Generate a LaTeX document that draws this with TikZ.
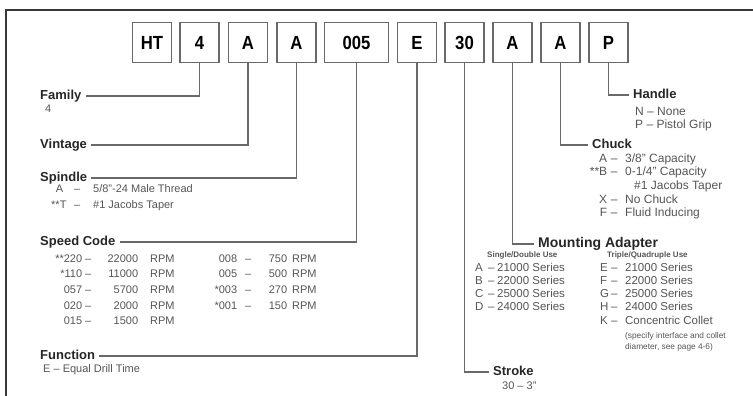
\documentclass[tikz,border=0pt]{standalone}
\usepackage{fontspec}
\usepackage{array}
\setmainfont{Liberation Sans}
\newfontfamily\codefont{Liberation Sans}[FakeStretch=0.88]
\usetikzlibrary{positioning}
\definecolor{framegray}{RGB}{55, 55, 55}
\definecolor{linegray}{RGB}{105, 105, 105}
\definecolor{notegray}{RGB}{85, 85, 85}
\newcolumntype{R}[1]{>{\raggedleft\arraybackslash}p{#1}}
\newcolumntype{C}[1]{>{\centering\arraybackslash}p{#1}}
\newcolumntype{L}[1]{>{\raggedright\arraybackslash}p{#1}}

\begin{document}
\begin{tikzpicture}[
    x=1pt, y=-1pt,
    % Node styles
    codebox/.style={
        rectangle,
        draw=linegray,
        line width=1.6pt,
        minimum width=#1,
        minimum height=40pt,
        inner sep=0pt,
        font=\codefont\bfseries\fontsize{19}{21}\selectfont
    },
    codebox/.default=39pt,
    field/.style={
        font=\bfseries\fontsize{13}{15}\selectfont,
        text=black!85,
        text height=10pt,
        text depth=3pt,
        inner sep=4pt,
        anchor=west
    },
    note/.style={
        font=\fontsize{11}{13.7}\selectfont,
        text=notegray,
        inner sep=0pt,
        anchor=base west
    },
    lead/.style={
        draw=linegray,
        line width=1.3pt
    }
]
\useasboundingbox (0,0) rectangle (753,396);

% ============================================
% FRAME
% ============================================
\draw[framegray, line width=1.3pt] (6,396) -- (6,10) -- (753,10);

% ============================================
% CODE BOXES (Left to Right)
% ============================================
\node[codebox] (prefix) at (152, 42.5) {HT};
\node[codebox] (fambox) at (199.5, 42.5) {4};
\node[codebox] (vinbox) at (248, 42.5) {A};
\node[codebox] (spibox) at (296.5, 42.5) {A};
\node[codebox=64pt] (spdbox) at (356.5, 42.5) {005};
\node[codebox] (funbox) at (417, 42.5) {E};
\node[codebox] (strbox) at (464.5, 42.5) {30};
\node[codebox] (adpbox) at (512.5, 42.5) {A};
\node[codebox] (chkbox) at (560.5, 42.5) {A};
\node[codebox] (hndbox) at (608.5, 42.5) {P};

% ============================================
% LEFT FIELDS
% ============================================

% 1. Family
\node[field] (family) at (36, 96) {Family};
\node[note] (familynote) at (45, 113) {4};

% 2. Vintage
\node[field] (vintage) at (36, 145) {Vintage};

% 3. Spindle
\node[field] (spindle) at (36, 178) {Spindle};
\node[note, font=\fontsize{11}{16}\selectfont] (spindlenote) at (51, 192) {%
    \begin{tabular}[t]{@{}R{12pt}@{}C{28pt}@{\hspace{2pt}}l@{}}
    A & -- & 5/8"-24 Male Thread\\
    {}**T & -- & \#1 Jacobs Taper
    \end{tabular}};

% 4. Speed Code
\node[field] (speed) at (36, 242) {Speed Code};
\node[note, font=\fontsize{11}{15.7}\selectfont] (speednote) at (53, 262) {%
    \begin{tabular}[t]{@{}R{29pt}@{}C{12pt}@{}R{44pt}@{\hspace{12pt}}L{40pt}@{}R{47pt}@{}C{22pt}@{}R{28pt}@{\hspace{5pt}}l@{}}
    {}**220 & -- & 22000 & RPM & 008 & -- & 750 & RPM\\
    {}*110 & -- & 11000 & RPM & 005 & -- & 500 & RPM\\
    057 & -- & 5700 & RPM & {}*003 & -- & 270 & RPM\\
    020 & -- & 2000 & RPM & {}*001 & -- & 150 & RPM\\
    015 & -- & 1500 & RPM & & & &
    \end{tabular}};

% 5. Function
\node[field] (function) at (36, 356) {Function};
\node[note] (functionnote) at (43, 372) {E -- Equal Drill Time};

% ============================================
% RIGHT FIELDS
% ============================================

% 6. Stroke
\node[field] (stroke) at (489, 372) {Stroke};
\node[note] (strokenote) at (502, 389) {30 -- 3"};

% 7. Mounting Adapter
\node[field, font=\bfseries\fontsize{14}{16}\selectfont] (adapter) at (534, 244) {Mounting Adapter};
\node[note, font=\bfseries\fontsize{8}{10}\selectfont] (adpheadleft) at (487, 257) {Single/Double Use};
\node[note, font=\bfseries\fontsize{8}{10}\selectfont] (adpheadright) at (607, 257) {Triple/Quadruple Use};
\node[note, font=\fontsize{11.5}{13.3}\selectfont] (adpleft) at (475, 271) {%
    \begin{tabular}[t]{@{}L{10pt}@{}C{12pt}@{}l@{}}
    A & -- & 21000 Series\\
    B & -- & 22000 Series\\
    C & -- & 25000 Series\\
    D & -- & 24000 Series
    \end{tabular}};
\node[note, font=\fontsize{11.5}{13.3}\selectfont] (adpright) at (600, 271) {%
    \begin{tabular}[t]{@{}L{8pt}@{}C{12pt}@{\hspace{5pt}}l@{}}
    E & -- & 21000 Series\\
    F & -- & 22000 Series\\
    G & -- & 25000 Series\\
    H & -- & 24000 Series\\
    K & -- & Concentric Collet
    \end{tabular}};
\node[note, font=\fontsize{8.3}{11}\selectfont] (adpremark) at (625, 338) {%
    \begin{tabular}[t]{@{}l@{}}
    (specify interface and collet\\
    diameter, see page 4-6)
    \end{tabular}};

% 8. Chuck
\node[field] (chuck) at (588, 145) {Chuck};
\node[note, font=\fontsize{12}{13.7}\selectfont] (chucknote) at (583, 162) {%
    \begin{tabular}[t]{@{}R{24pt}@{}C{14pt}@{\hspace{4pt}}l@{}}
    A & -- & 3/8" Capacity\\
    {}**B & -- & 0-1/4" Capacity\\
    & & \hspace{9pt}\#1 Jacobs Taper\\
    X & -- & No Chuck\\
    F & -- & Fluid Inducing
    \end{tabular}};

% 9. Handle
\node[field] (handle) at (629, 95) {Handle};
\node[note, font=\fontsize{12}{13}\selectfont] (handlenote) at (635, 116) {%
    \begin{tabular}[t]{@{}l@{}}
    N -- None\\
    P -- Pistol Grip
    \end{tabular}};

% ============================================
% LEADER LINES
% ============================================
\draw[lead] (fambox.south) |- (family.east);
\draw[lead] (vinbox.south) |- (vintage.east);
\draw[lead] (spibox.south) |- (spindle.east);
\draw[lead] (spdbox.south) |- (speed.east);
\draw[lead] (funbox.south) |- (function.east);
\draw[lead] (strbox.south) |- (stroke.west);
\draw[lead] (adpbox.south) |- (adapter.west);
\draw[lead] (chkbox.south) |- (chuck.west);
\draw[lead] (hndbox.south) |- (handle.west);

\end{tikzpicture}
\end{document}
